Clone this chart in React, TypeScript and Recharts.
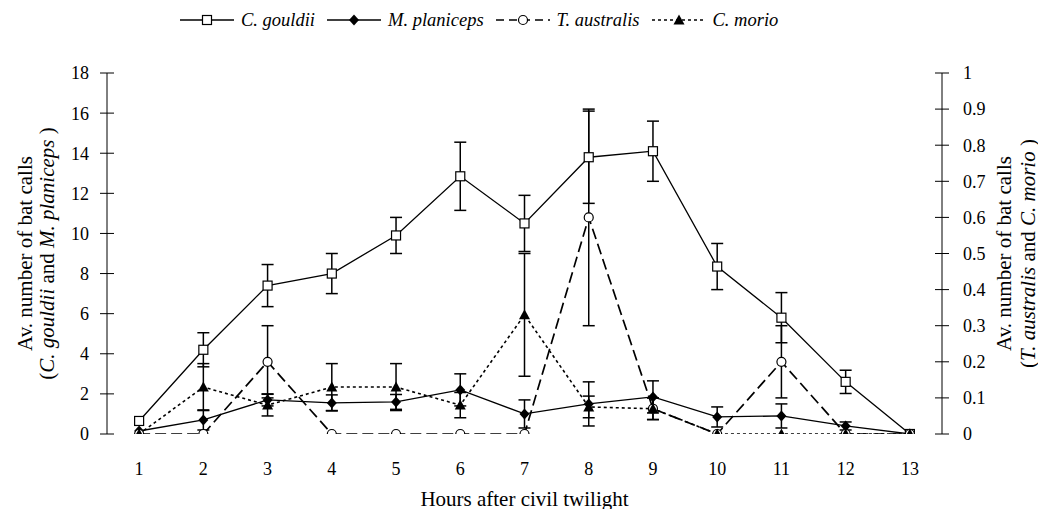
import React from 'react';
import { ComposedChart, Line, XAxis, YAxis, ErrorBar } from 'recharts';

// Hours after civil twilight
const hours = [1, 2, 3, 4, 5, 6, 7, 8, 9, 10, 11, 12, 13];

// Left axis series (C. gouldii, M. planiceps)
const gouldii = [0.65, 4.2, 7.4, 8.0, 9.9, 12.85, 10.5, 13.8, 14.1, 8.35, 5.8, 2.6, 0];
const gouldiiErr = [0, 0.85, 1.05, 1.0, 0.9, 1.7, 1.4, 2.3, 1.5, 1.15, 1.25, 0.58, 0];
const planiceps = [0.15, 0.7, 1.7, 1.55, 1.6, 2.2, 1.0, 1.5, 1.85, 0.85, 0.9, 0.4, 0];
const planicepsErr = [0, 0.5, 0.3, 0.4, 0.37, 0.8, 0.7, 1.1, 0.8, 0.5, 0.6, 0.2, 0];

// Right axis series (T. australis, C. morio)
const australis = [0, 0, 0.2, 0, 0, 0, 0, 0.6, 0.07, 0, 0.2, 0, 0];
const australisErr = [0, 0, 0.1, 0, 0, 0, 0, 0.3, 0.03, 0, 0.1, 0, 0];
const morio = [0, 0.13, 0.08, 0.13, 0.13, 0.08, 0.33, 0.075, 0.07, 0, 0, 0, 0];
const morioErr = [0, 0.065, 0.03, 0.065, 0.065, 0.035, 0.17, 0.03, 0.03, 0, 0, 0, 0];

// Axis ticks
const leftTicks = [0, 2, 4, 6, 8, 10, 12, 14, 16, 18];
const rightTicks = [0, 0.1, 0.2, 0.3, 0.4, 0.5, 0.6, 0.7, 0.8, 0.9, 1];
const hourMarks = [0.5, 1.5, 2.5, 3.5, 4.5, 5.5, 6.5, 7.5, 8.5, 9.5, 10.5, 11.5, 12.5, 13.5];

const data = hours.map((h, i) => ({
  hour: h,
  gouldii: gouldii[i],
  gouldiiErr: gouldiiErr[i],
  planiceps: planiceps[i],
  planicepsErr: planicepsErr[i],
  australis: australis[i],
  australisErr: australisErr[i],
  morio: morio[i],
  morioErr: morioErr[i],
}));

const FONT = "'Liberation Serif', 'Times New Roman', Times, serif";
const tickStyle = { fill: '#000', fontSize: 18, fontFamily: FONT };
const TITLE_SIZE = 21;
const titleStyle = { fontFamily: FONT, fontSize: TITLE_SIZE, fill: '#000' };

const SquareDot = (p: any) => {
  const { cx, cy, index } = p;
  if (cx == null || cy == null) return <g key={index} />;
  return <rect key={index} x={cx - 4.5} y={cy - 4.5} width={9} height={9} fill="#fff" stroke="#000" strokeWidth={1.2} />;
};
const DiamondDot = (p: any) => {
  const { cx, cy, index } = p;
  if (cx == null || cy == null) return <g key={index} />;
  return <polygon key={index} points={`${cx},${cy - 5.5} ${cx + 5},${cy} ${cx},${cy + 5.5} ${cx - 5},${cy}`} fill="#000" />;
};
const CircleDot = (p: any) => {
  const { cx, cy, index } = p;
  if (cx == null || cy == null) return <g key={index} />;
  return <circle key={index} cx={cx} cy={cy} r={4.5} fill="#fff" stroke="#000" strokeWidth={1.2} />;
};
const TriangleDot = (p: any) => {
  const { cx, cy, index } = p;
  if (cx == null || cy == null) return <g key={index} />;
  return <polygon key={index} points={`${cx},${cy - 5.5} ${cx + 5.5},${cy + 4.5} ${cx - 5.5},${cy + 4.5}`} fill="#000" />;
};

const legendItems = [
  { name: 'C. gouldii', dash: undefined as string | undefined, width: 1.3, marker: 'square' },
  { name: 'M. planiceps', dash: undefined as string | undefined, width: 1.3, marker: 'diamond' },
  { name: 'T. australis', dash: '8 5', width: 1.7, marker: 'circle' },
  { name: 'C. morio', dash: '3 3', width: 1.6, marker: 'triangle' },
];

const LegendMarker = ({ kind }: { kind: string }) => {
  const cx = 27;
  const cy = 8;
  if (kind === 'square') return <SquareDot cx={cx} cy={cy} index={0} />;
  if (kind === 'diamond') return <DiamondDot cx={cx} cy={cy} index={0} />;
  if (kind === 'circle') return <CircleDot cx={cx} cy={cy} index={0} />;
  return <TriangleDot cx={cx} cy={cy} index={0} />;
};

const ChartLegend = () => (
  <div
    style={{
      position: 'absolute',
      top: 2,
      left: 172,
      display: 'flex',
      alignItems: 'center',
      whiteSpace: 'nowrap',
      fontFamily: FONT,
      fontSize: 18.5,
      fontStyle: 'italic',
      color: '#000',
    }}
  >
    {legendItems.map((it, i) => (
      <div key={it.name} style={{ display: 'flex', alignItems: 'center', marginLeft: i === 0 ? 0 : 12 }}>
        <svg width={54} height={16} style={{ display: 'block' }}>
          <line x1={0} y1={8} x2={54} y2={8} stroke="#000" strokeWidth={it.width} strokeDasharray={it.dash} />
          <LegendMarker kind={it.marker} />
        </svg>
        <span style={{ marginLeft: 7, lineHeight: '20px', fontFamily: FONT, fontStyle: 'italic' }}>{it.name}</span>
      </div>
    ))}
  </div>
);

const VerticalTitle = ({ x, cy, children }: { x: number; cy: number; children: React.ReactNode }) => (
  <text
    x={x}
    y={cy}
    textAnchor="middle"
    dominantBaseline="central"
    transform={`rotate(-90 ${x} ${cy})`}
    style={titleStyle}
  >
    {children}
  </text>
);

const LeftTitle = (props: any) => {
  const vb = props.viewBox || {};
  const cy = vb.y + vb.height / 2;
  return (
    <g>
      <VerticalTitle x={vb.x + 17} cy={cy}>Av. number of bat calls</VerticalTitle>
      <VerticalTitle x={vb.x + 39} cy={cy}>
        (<tspan style={{ fontStyle: 'italic' }}>C. gouldii</tspan> and <tspan style={{ fontStyle: 'italic' }}>M. planiceps</tspan> )
      </VerticalTitle>
    </g>
  );
};

const RightTitle = (props: any) => {
  const vb = props.viewBox || {};
  const cy = vb.y + vb.height / 2;
  return (
    <g>
      <VerticalTitle x={vb.x + 62} cy={cy}>Av. number of bat calls</VerticalTitle>
      <VerticalTitle x={vb.x + 86} cy={cy}>
        (<tspan style={{ fontStyle: 'italic' }}>T. australis</tspan> and <tspan style={{ fontStyle: 'italic' }}>C. morio</tspan> )
      </VerticalTitle>
    </g>
  );
};

const BottomTitle = (props: any) => {
  const vb = props.viewBox || {};
  return (
    <text x={vb.x + vb.width / 2} y={vb.y + 72} textAnchor="middle" style={titleStyle}>
      Hours after civil twilight
    </text>
  );
};

export default function App() {
  return (
    <div style={{ position: 'relative', width: 1038, height: 509, marginBottom: -8 }}>
      <ChartLegend />
      <ComposedChart width={1038} height={509} data={data} margin={{ top: 65, right: 0, bottom: 0, left: 0 }}>
        <XAxis
          xAxisId="marks"
          type="number"
          dataKey="hour"
          domain={[0.5, 13.5]}
          ticks={hourMarks}
          interval={0}
          height={0}
          tick={false}
          tickSize={14}
          axisLine={{ stroke: '#000', strokeWidth: 1 }}
          tickLine={{ stroke: '#000', strokeWidth: 1, transform: 'translate(0,-7)' }}
          allowDataOverflow
        />
        <XAxis
          xAxisId="lab"
          type="number"
          dataKey="hour"
          domain={[0.5, 13.5]}
          ticks={hours}
          interval={0}
          height={83}
          axisLine={false}
          tickLine={false}
          tickSize={0}
          tickMargin={28}
          tick={tickStyle}
          allowDataOverflow
          label={{ content: BottomTitle }}
        />
        <YAxis
          yAxisId="L"
          orientation="left"
          width={99}
          domain={[0, 18]}
          ticks={leftTicks}
          interval={0}
          tickSize={14}
          tickMargin={4}
          tick={tickStyle}
          axisLine={{ stroke: '#000', strokeWidth: 1 }}
          tickLine={{ stroke: '#000', strokeWidth: 1, transform: 'translate(7,0)' }}
          allowDataOverflow
          label={{ content: LeftTitle }}
        />
        <YAxis
          yAxisId="R"
          orientation="right"
          width={104}
          domain={[0, 1]}
          ticks={rightTicks}
          interval={0}
          tickSize={14}
          tickMargin={7}
          tick={tickStyle}
          tickFormatter={(v: number) => String(v)}
          axisLine={{ stroke: '#000', strokeWidth: 1 }}
          tickLine={{ stroke: '#000', strokeWidth: 1, transform: 'translate(-7,0)' }}
          allowDataOverflow
          label={{ content: RightTitle }}
        />

        <Line
          xAxisId="lab"
          yAxisId="L"
          dataKey="gouldii"
          stroke="#000"
          strokeWidth={1.3}
          dot={SquareDot}
          activeDot={false}
          isAnimationActive={false}
        >
          <ErrorBar dataKey="gouldiiErr" direction="y" width={6} stroke="#000" strokeWidth={1.5} />
        </Line>
        <Line
          xAxisId="lab"
          yAxisId="L"
          dataKey="planiceps"
          stroke="#000"
          strokeWidth={1.3}
          dot={DiamondDot}
          activeDot={false}
          isAnimationActive={false}
        >
          <ErrorBar dataKey="planicepsErr" direction="y" width={6} stroke="#000" strokeWidth={1.5} />
        </Line>
        <Line
          xAxisId="lab"
          yAxisId="R"
          dataKey="australis"
          stroke="#000"
          strokeWidth={1.7}
          strokeDasharray="11 5"
          dot={CircleDot}
          activeDot={false}
          isAnimationActive={false}
        >
          <ErrorBar dataKey="australisErr" direction="y" width={6} stroke="#000" strokeWidth={1.5} />
        </Line>
        <Line
          xAxisId="lab"
          yAxisId="R"
          dataKey="morio"
          stroke="#000"
          strokeWidth={1.6}
          strokeDasharray="3 3"
          dot={TriangleDot}
          activeDot={false}
          isAnimationActive={false}
        >
          <ErrorBar dataKey="morioErr" direction="y" width={6} stroke="#000" strokeWidth={1.5} />
        </Line>
      </ComposedChart>
    </div>
  );
}
